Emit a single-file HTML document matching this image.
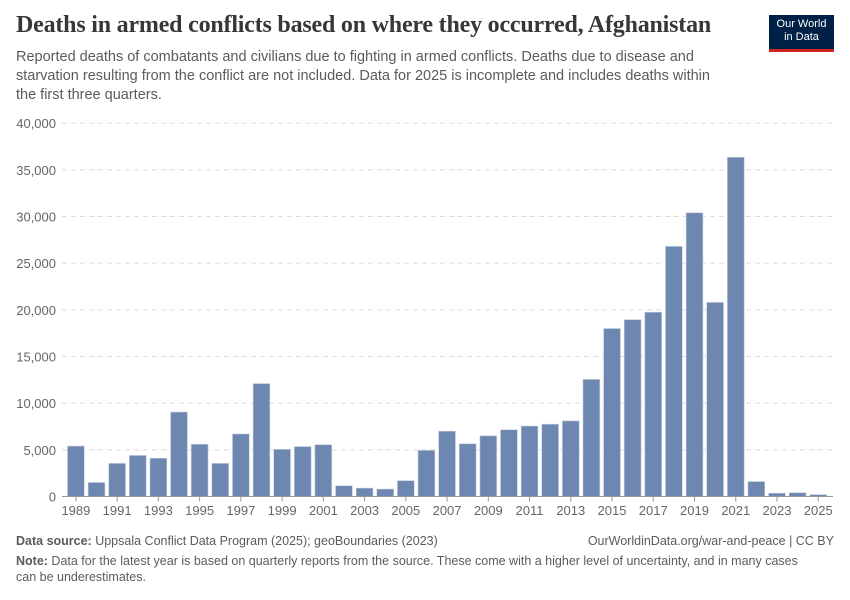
<!DOCTYPE html>
<html><head><meta charset="utf-8"><style>
body{margin:0;width:850px;height:600px;background:#fff;font-family:"Liberation Sans",sans-serif;position:relative;overflow:hidden}
.t{position:absolute;left:16px;top:12px;font-family:"Liberation Serif",serif;font-size:24px;color:#373737;font-weight:bold;letter-spacing:-0.2px}
.s{position:absolute;left:16px;top:48px;width:712px;font-size:14.5px;line-height:19px;color:#5b5b5b}
.logo{position:absolute;left:769px;top:15px;width:65px;height:37px;background:#002147;color:#fff;font-size:11px;line-height:13px;text-align:center;padding-top:3px;box-sizing:border-box;border-bottom:3px solid #ce261e}
.f{position:absolute;left:16px;font-size:12.5px;color:#5b5b5b;line-height:16px}
</style></head><body>
<div class="t">Deaths in armed conflicts based on where they occurred, Afghanistan</div>
<div class="s">Reported deaths of combatants and civilians due to fighting in armed conflicts. Deaths due to disease and starvation resulting from the conflict are not included. Data for 2025 is incomplete and includes deaths within the first three quarters.</div>
<div class="logo">Our World<br>in Data</div>
<svg id="c" width="850" height="600" style="position:absolute;left:0;top:0"></svg>
<div class="f" style="top:533px"><b>Data source:</b> Uppsala Conflict Data Program (2025); geoBoundaries (2023)</div>
<div class="f" style="top:533px;left:auto;right:16px">OurWorldinData.org/war-and-peace | CC BY</div>
<div class="f" style="top:553px;width:790px"><b>Note:</b> Data for the latest year is based on quarterly reports from the source. These come with a higher level of uncertainty, and in many cases can be underestimates.</div>
<script>
const years=[1989,1990,1991,1992,1993,1994,1995,1996,1997,1998,1999,2000,2001,2002,2003,2004,2005,2006,2007,2008,2009,2010,2011,2012,2013,2014,2015,2016,2017,2018,2019,2020,2021,2022,2023,2024,2025];
const deaths=[5400,1500,3550,4400,4100,9050,5600,3550,6700,12100,5050,5350,5550,1150,900,800,1700,4950,7000,5650,6500,7150,7550,7750,8100,12550,18000,18950,19750,26800,30400,20800,36350,1600,350,400,200];
const yTicks=[0,5000,10000,15000,20000,25000,30000,35000,40000];
const NS="http://www.w3.org/2000/svg",svg=document.getElementById('c');
const y0=496.5,yk=373.3/40000;
function y(v){return y0-v*yk}
const step=20.62,bw=16.8;
function x(i){return 67.5+i*step}
function mk(t,a){const e=document.createElementNS(NS,t);for(const k in a)e.setAttribute(k,a[k]);svg.appendChild(e);return e}
yTicks.forEach(v=>{
 if(v>0){const g=mk('line',{x1:62,x2:833,y1:y(v),y2:y(v),stroke:'#ddd','stroke-dasharray':'5,4'});
 
 }
 const t=mk('text',{x:56,y:y(v)+5,'text-anchor':'end','font-size':'13',fill:'#666','font-family':'Liberation Sans'});
 t.textContent=v.toLocaleString('en-US');
 
 
});
deaths.forEach((d,i)=>{
 const r=mk('rect',{x:x(i),y:y(d),width:bw,height:y0-y(d),fill:'#6d87b0',stroke:'#c3cede','stroke-width':'0.6'});
 
 
});
const ax=mk('line',{x1:62,x2:833,y1:y0,y2:y0,stroke:'#999'});


years.forEach((yr,i)=>{
 if(i%2)return;
 const c=x(i)+bw/2;
 const tk=mk('line',{x1:c,x2:c,y1:y0,y2:y0+5,stroke:'#999'});
 
 
 const t=mk('text',{x:c,y:515,'text-anchor':'middle','font-size':'13',fill:'#666','font-family':'Liberation Sans'});
 t.textContent=yr;
 
 
});
</script>
</body></html>
